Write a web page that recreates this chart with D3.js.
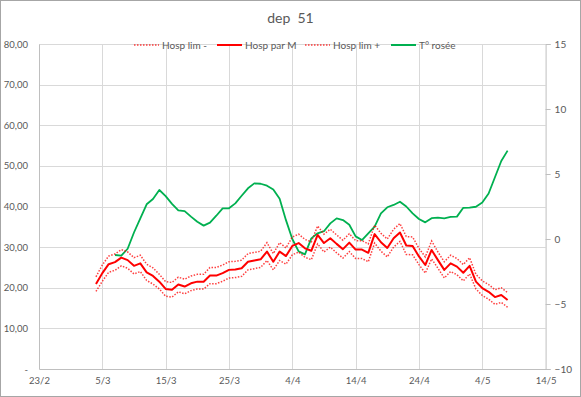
<!DOCTYPE html>
<html>
<head>
<meta charset="utf-8">
<script src="https://cdn.jsdelivr.net/npm/d3@7"></script>
<style>
  body { margin: 0; background: #fff; }
  text { font-family: Lato, "Open Sans", sans-serif; fill: #595959; }
</style>
</head>
<body>
<div id="chart"></div>
<script>
// daily series, hospitalisations start 4/3/2021, dew point starts 7/3/2021
const hospStart = "2021-03-04";
const hospParM = [20.9, 23.6, 25.8, 26.3, 27.4, 26.8, 25.4, 26.0, 23.8, 22.9,
  21.5, 19.7, 19.5, 20.8, 20.3, 21.1, 21.5, 21.5, 23.0, 23.0,
  23.6, 24.4, 24.5, 24.8, 26.4, 26.7, 27.0, 28.9, 26.4, 28.9,
  27.8, 30.3, 31.0, 29.7, 29.1, 33.0, 31.0, 32.2, 30.8, 29.5,
  31.1, 29.4, 29.4, 28.6, 33.2, 31.2, 29.8, 32.2, 33.6, 30.4,
  30.3, 27.7, 25.6, 29.3, 26.8, 24.4, 26.0, 25.2, 23.7, 25.4,
  21.5, 19.9, 19.0, 17.7, 18.2, 17.0];
const hospLimMoins = [19.1, 21.6, 23.8, 24.3, 25.4, 24.8, 23.4, 24.0, 21.8, 20.9,
  19.7, 17.9, 17.7, 19.0, 18.5, 19.3, 19.7, 19.7, 21.0, 21.0,
  21.6, 22.4, 22.5, 22.8, 24.4, 24.7, 25.0, 26.7, 24.4, 26.7,
  25.8, 28.1, 28.8, 27.5, 26.9, 30.8, 28.8, 30.0, 28.6, 27.3,
  28.9, 27.2, 27.2, 26.4, 31.0, 29.0, 27.6, 30.0, 31.4, 28.2,
  28.1, 25.7, 23.6, 27.1, 24.8, 22.4, 24.0, 23.2, 21.7, 23.4,
  19.7, 18.1, 17.2, 15.9, 16.4, 15.2];
const hospLimPlus = [22.7, 25.6, 27.8, 28.3, 29.4, 28.8, 27.4, 28.0, 25.8, 24.9,
  23.3, 21.5, 21.3, 22.6, 22.1, 22.9, 23.3, 23.3, 25.0, 25.0,
  25.6, 26.4, 26.5, 26.8, 28.4, 28.7, 29.0, 31.1, 28.4, 31.1,
  29.8, 32.5, 33.2, 31.9, 31.3, 35.2, 33.2, 34.4, 33.0, 31.7,
  33.3, 31.6, 31.6, 30.8, 35.4, 33.4, 32.0, 34.4, 35.8, 32.6,
  32.5, 29.7, 27.6, 31.5, 28.8, 26.4, 28.0, 27.2, 25.7, 27.4,
  23.3, 21.7, 20.8, 19.5, 20.0, 18.8];
const roseeStart = "2021-03-07";
const tRosee = [-1.23, -1.28, -0.75, 0.5, 1.59, 2.67, 3.08, 3.77, 3.3, 2.7,
  2.2, 2.15, 1.72, 1.33, 1.03, 1.26, 1.79, 2.36, 2.36, 2.74,
  3.33, 3.9, 4.28, 4.25, 4.1, 3.8, 3.1, 1.45, 0.0, -0.95,
  -1.18, 0.05, 0.44, 0.6, 1.2, 1.59, 1.46, 1.1, 0.2, -0.08,
  0.44, 0.95, 1.97, 2.44, 2.62, 2.87, 2.5, 1.97, 1.54, 1.28,
  1.6, 1.64, 1.59, 1.7, 1.72, 2.4, 2.41, 2.48, 2.8, 3.5,
  4.75, 6.0, 6.8];
const xTicks = ["2021-02-23", "2021-03-05", "2021-03-15", "2021-03-25", "2021-04-04",
  "2021-04-14", "2021-04-24", "2021-05-04", "2021-05-14"];
const leftTicks = [0, 10, 20, 30, 40, 50, 60, 70, 80];
const rightTicks = [-10, -5, 0, 5, 10, 15];

const width = 581, height = 397;
const margin = { top: 44, right: 35.4, bottom: 28, left: 39 };

const parse = d3.utcParse("%Y-%m-%d");
const toSeries = (start, vals) => vals.map((v, i) => ({ date: d3.utcDay.offset(parse(start), i), v }));

const x = d3.scaleUtc()
  .domain([parse(xTicks[0]), parse(xTicks[xTicks.length - 1])])
  .range([margin.left, width - margin.right]);
const y = d3.scaleLinear().domain([0, 80]).range([height - margin.bottom, margin.top]);
const y2 = d3.scaleLinear().domain([-10, 15]).range([height - margin.bottom, margin.top]);

const fr = d3.formatLocale({ decimal: ",", thousands: " ", grouping: [3], currency: ["", ""] });
const fmtLeft = d => d === 0 ? "-" : fr.format(".2f")(d);

const svg = d3.select("#chart").append("svg")
  .attr("width", width)
  .attr("height", height)
  .attr("font-size", 10);

svg.append("rect")
  .attr("x", 0.5).attr("y", 0.5)
  .attr("width", width - 1).attr("height", height - 1)
  .attr("fill", "#fff").attr("stroke", "#a6a6a6");

svg.append("text")
  .attr("x", width / 2).attr("y", 23)
  .attr("text-anchor", "middle")
  .attr("font-size", 14)
  .style("white-space", "pre")
  .text("dep  51");

// gridlines
svg.append("g")
  .selectAll("line")
  .data(leftTicks.slice(1))
  .join("line")
  .attr("x1", margin.left).attr("x2", width - margin.right)
  .attr("y1", d => Math.round(y(d)) + 0.5).attr("y2", d => Math.round(y(d)) + 0.5)
  .attr("stroke", "#d9d9d9");

svg.append("g")
  .selectAll("line")
  .data(xTicks.slice(1, -1).map(parse))
  .join("line")
  .attr("x1", d => Math.round(x(d)) + 0.5).attr("x2", d => Math.round(x(d)) + 0.5)
  .attr("y1", margin.top).attr("y2", height - margin.bottom)
  .attr("stroke", "#d9d9d9");

// axes
const xAxis = svg.append("g")
  .attr("transform", `translate(0,${height - margin.bottom})`)
  .call(d3.axisBottom(x).tickValues(xTicks.map(parse)).tickSize(0).tickPadding(8)
    .tickFormat(d3.utcFormat("%-d/%-m")));
xAxis.select(".domain").attr("stroke", "#bfbfbf");
xAxis.selectAll("text").attr("font-family", null).attr("font-size", 9.5).attr("fill", "#595959");

const yAxis = svg.append("g")
  .attr("transform", `translate(${margin.left},0)`)
  .call(d3.axisLeft(y).tickValues(leftTicks).tickSize(0).tickPadding(11).tickFormat(fmtLeft));
yAxis.select(".domain").attr("stroke", "#bfbfbf");
yAxis.selectAll("text").attr("font-family", null).attr("font-size", 9.5).attr("fill", "#595959");

const y2Axis = svg.append("g")
  .attr("transform", `translate(${width - margin.right},0)`)
  .call(d3.axisRight(y2).tickValues(rightTicks).tickSize(5).tickPadding(4).tickFormat(d3.format("d")));
y2Axis.select(".domain").attr("stroke", "#bfbfbf");
y2Axis.selectAll("line").attr("stroke", "#bfbfbf");
y2Axis.selectAll("text").attr("font-family", null).attr("font-size", 10).attr("fill", "#595959");

// series
const line = d3.line().x(d => x(d.date)).y(d => y(d.v));
const line2 = d3.line().x(d => x(d.date)).y(d => y2(d.v));

svg.append("path").datum(toSeries(roseeStart, tRosee))
  .attr("d", line2).attr("fill", "none")
  .attr("stroke", "#00b050").attr("stroke-width", 1.8).attr("stroke-linejoin", "round");

svg.append("path").datum(toSeries(hospStart, hospLimMoins))
  .attr("d", line).attr("fill", "none")
  .attr("stroke", "#ff0000").attr("stroke-width", 1.5).attr("stroke-dasharray", "1.5,1.5").attr("opacity", 0.75);

svg.append("path").datum(toSeries(hospStart, hospLimPlus))
  .attr("d", line).attr("fill", "none")
  .attr("stroke", "#ff0000").attr("stroke-width", 1.5).attr("stroke-dasharray", "1.5,1.5").attr("opacity", 0.75);

svg.append("path").datum(toSeries(hospStart, hospParM))
  .attr("d", line).attr("fill", "none")
  .attr("stroke", "#ff0000").attr("stroke-width", 2).attr("stroke-linejoin", "round");

// legend
const legendItems = [
  { name: "Hosp lim -", color: "#ff0000", dash: "1.5,1.5", x: 134 },
  { name: "Hosp par M", color: "#ff0000", dash: null, x: 217 },
  { name: "Hosp lim +", color: "#ff0000", dash: "1.5,1.5", x: 305 },
  { name: "T° rosée", color: "#00b050", dash: null, x: 391 }
];
const lg = svg.append("g").selectAll("g")
  .data(legendItems)
  .join("g")
  .attr("transform", d => `translate(${d.x},45)`);
lg.append("line")
  .attr("x1", 0).attr("x2", 25)
  .attr("stroke", d => d.color)
  .attr("stroke-width", d => d.dash ? 1.5 : 2)
  .attr("stroke-dasharray", d => d.dash)
  .attr("opacity", d => d.dash ? 0.75 : 1);
lg.append("text")
  .attr("x", 28).attr("dy", "0.35em")
  .text(d => d.name);
</script>
</body>
</html>
